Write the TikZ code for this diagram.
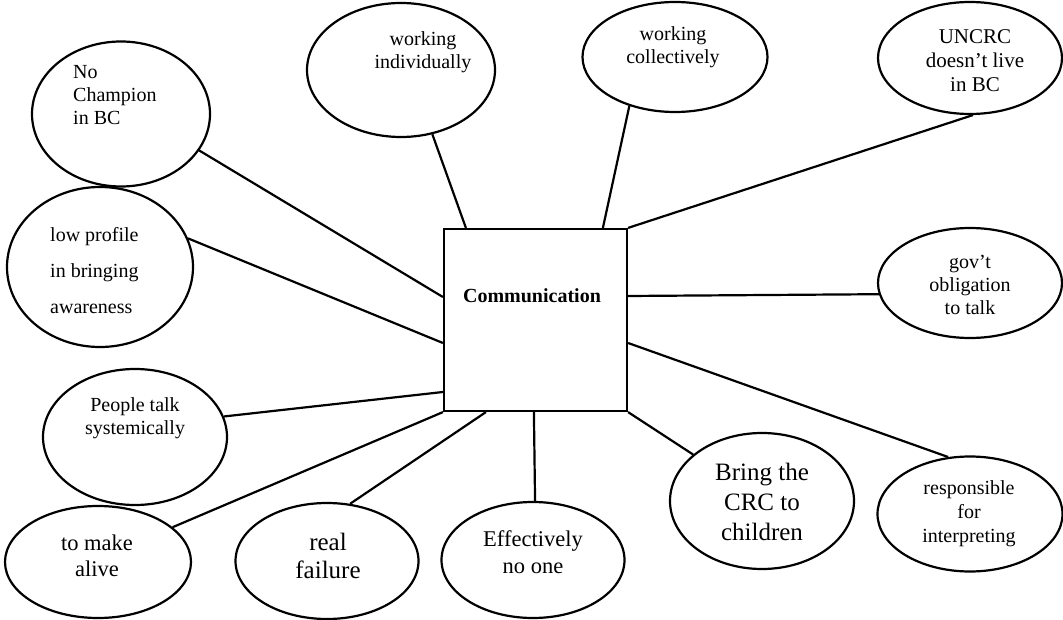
\documentclass[tikz,border=0pt]{standalone}
\usepackage{fontspec}
\setmainfont{Liberation Serif}
\usetikzlibrary{shapes.geometric,calc}

\begin{document}
\begin{tikzpicture}[x=1pt,y=-1pt,
  bubble/.style={ellipse,draw,line width=2.2pt,inner sep=0pt},
  hub/.style={rectangle,draw,line width=2.2pt,inner sep=0pt,minimum width=183pt,minimum height=182pt},
  link/.style={line width=2.2pt},
  lbl/.style={align=center,inner sep=0pt},
  fs/.style={font=\fontsize{20}{23}\selectfont},
  fm/.style={font=\fontsize{22.5}{26.5}\selectfont},
  fl/.style={font=\fontsize{25}{30}\selectfont},
]
\useasboundingbox (0,0) rectangle (1063,620);

% central hub
\node[hub] (box) at (535.5,320) {};
\node[lbl,font=\fontsize{20}{23}\selectfont\bfseries] (boxtxt) at (532,296) {Communication};

% surrounding bubbles
\node[bubble,minimum width=178pt,minimum height=145pt] (nc) at (121,114) {};
\node[bubble,minimum width=186pt,minimum height=160pt] (lp) at (100,267) {};
\node[bubble,minimum width=184pt,minimum height=136pt] (pt) at (135,437) {};
\node[bubble,minimum width=186pt,minimum height=112pt] (ma) at (98,562) {};
\node[bubble,minimum width=183pt,minimum height=116pt] (rf) at (327,561) {};
\node[bubble,minimum width=183pt,minimum height=116pt] (en) at (533,560) {};
\node[bubble,minimum width=184pt,minimum height=136pt] (br) at (762,501) {};
\node[bubble,minimum width=185pt,minimum height=115pt] (rs) at (970,514) {};
\node[bubble,minimum width=184pt,minimum height=110pt] (gv) at (970,283) {};
\node[bubble,minimum width=184pt,minimum height=112pt] (un) at (970,58) {};
\node[bubble,minimum width=185pt,minimum height=110pt] (wc) at (675,57) {};
\node[bubble,minimum width=188pt,minimum height=134pt] (wi) at (401,70) {};

% bubble texts
\node[lbl,fs,align=left,anchor=west] (nct) at (73,95) {No\\Champion\\in BC};
\node[lbl,align=left,anchor=west,font=\fontsize{20}{36}\selectfont] (lpt) at (50,271) {low profile\\in bringing\\awareness};
\node[lbl,fs] (ptt) at (135,418) {People talk\\systemically};
\node[lbl,fm] (mat) at (97,556) {to make\\alive};
\node[lbl,font=\fontsize{25}{28}\selectfont] (rft) at (328,556) {real\\failure};
\node[lbl,fm] (ent) at (533,552) {Effectively\\no one};
\node[lbl,fl] (brt) at (762,502) {Bring the\\CRC to\\children};
\node[lbl,font=\fontsize{20}{24}\selectfont] (rst) at (969,514) {responsible\\for\\interpreting};
\node[lbl,fs] (gvt) at (970,285) {gov’t\\obligation\\to talk};
\node[lbl,font=\fontsize{21}{24}\selectfont] (unt) at (975,61) {UNCRC\\doesn’t live\\in BC};
\node[lbl,fs] (wct) at (673,47) {working\\collectively};
\node[lbl,fs] (wit) at (423,52) {working\\individually};

% spokes
\draw[link] (nc.-25.7) -- ($(box.west)+(0,-23)$);
\draw[link] (lp.18.4) -- ($(box.west)+(0,23)$);
\draw[link] (pt.13.3) -- ($(box.west)+(0,72)$);
\draw[link] (ma.25.3) -- (box.south west);
\draw[link] (rf.68.4) -- ($(box.south west)+(43,0)$);
\draw[link] (en.88.7) -- ($(box.south west)+(91,0)$);
\draw[link] (br.146.3) -- (box.south east);
\draw[link] (rs.111.6) -- ($(box.east)+(0,23)$);
\draw[link] (gv.187.5) -- ($(box.east)+(0,-24)$);
\draw[link] (un.-87) -- (box.north east);
\draw[link] (wc.-133) -- ($(box.north west)+(160,0)$);
\draw[link] (wi.-64.5) -- ($(box.north west)+(23,0)$);
\end{tikzpicture}
\end{document}
